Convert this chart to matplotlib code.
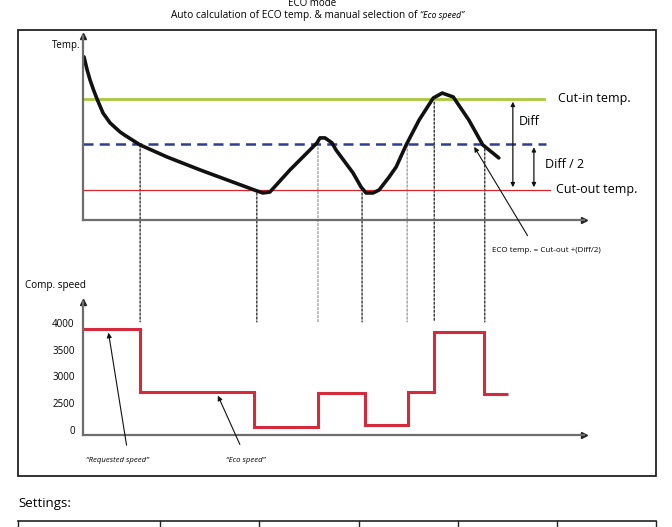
import numpy as np
import matplotlib
matplotlib.use("Agg")
import matplotlib.pyplot as plt
from matplotlib.patches import ConnectionPatch, Rectangle

plt.rcParams['font.family'] = ['Open Sans', 'DejaVu Sans']

# temperature curve (time units 0..100, temperature units)
curve_t = [0.2, 0.8, 1.4, 2.1, 2.8, 4.0, 5.4, 7.4, 8.4, 11.4, 16.8, 23.4, 29.9, 34.7, 35.9, 37.3,
           41.3, 46.7, 47.3, 48.3, 49.7, 50.5, 53.9, 55.5, 56.5, 57.9, 59.1, 61.1,
           62.5, 64.5, 67.1, 69.9, 71.7, 73.9, 77.0, 79.8, 83.0]
curve_T = [7.85, 7.3, 6.84, 6.4, 6.0, 5.38, 4.95, 4.55, 4.4, 3.98, 3.45, 2.88, 2.35, 1.96, 1.87, 1.91,
           2.88, 4.07, 4.29, 4.29, 4.07, 3.76, 2.75, 2.13, 1.87, 1.87, 2.0, 2.57,
           3.01, 3.98, 5.08, 6.04, 6.26, 6.09, 5.08, 3.98, 3.41]
cut_in = 6.0
cut_out = 2.0
eco_temp = cut_out + (cut_in - cut_out) / 2

# compressor speed steps
step_edges = [0, 11.4, 34.1, 46.9, 56.3, 64.9, 70.1, 80.0, 84.8]
step_speed = [3890, 2710, 280, 2690, 470, 2710, 3830, 2670]
speed_ticks = [0, 2500, 3000, 3500, 4000]
speed_labels = ['0', '2500', '3000', '3500', '4000']

# moments linking the two charts
event_t = [11.4, 34.7, 46.9, 55.7, 64.7, 70.1, 80.2]
event_T = [3.98, 1.87, 4.22, 1.87, 3.98, 6.04, 3.98]
event_col = ['black', 'black', '#888888', 'black', '#888888', 'black', 'black']

W, H = 672, 527
fig = plt.figure(figsize=(W / 100, H / 100), dpi=100)

bg = fig.add_axes([0, 0, 1, 1], zorder=-1)
bg.set_xlim(0, W)
bg.set_ylim(H, 0)
bg.axis('off')

bg.text(312, 3, 'ECO mode', ha='center', va='center', fontsize=7)
t1 = bg.text(420, 18, 'Auto calculation of ECO temp. & manual selection of ', ha='right',
             va='baseline', fontsize=7.3)
fig.canvas.draw()
x_end = bg.transData.inverted().transform(t1.get_window_extent().p1)[0]
bg.text(x_end, 18, '\u201cEco speed\u201d', ha='left', va='baseline', fontsize=6.3, style='italic')
bg.add_patch(Rectangle((18, 30), 638, 446, fill=False, lw=1.3, ec='#222222'))
bg.text(18, 503, 'Settings:', ha='left', va='center', fontsize=9.5)
bg.plot([18, 656], [521, 521], color='#222222', lw=1.2)
for x in [18, 160, 259, 359, 458, 557, 656]:
    bg.plot([x, x], [521, 530], color='#222222', lw=1.0)


def arrow_axes(ax):
    for s in ['top', 'right']:
        ax.spines[s].set_visible(False)
    for s in ['left', 'bottom']:
        ax.spines[s].set_color('#6d6d6d')
        ax.spines[s].set_linewidth(1.6)
    ax.plot(1, 0, marker='>', ms=4, color='#222222', transform=ax.transAxes, clip_on=False)
    ax.plot(0, 1, marker='^', ms=4, color='#222222', transform=ax.transAxes, clip_on=False)
    ax.set_facecolor('none')


# top: temperature
ax1 = fig.add_axes([83 / W, 1 - 220 / H, 501 / W, 184 / H])
arrow_axes(ax1)
ax1.set_xlim(0, 100)
ax1.set_ylim(0.681, 8.769)
ax1.set_xticks([])
ax1.set_yticks([])
ax1.axhline(cut_in, xmax=0.92, color='#a9c83a', lw=2)
ax1.axhline(eco_temp, xmax=0.925, color='#2f3d95', lw=1.8, ls=(0, (4, 2.5)))
ax1.axhline(cut_out, xmax=0.932, color='#d6262e', lw=0.9)
ax1.plot(curve_t, curve_T, color='#111111', lw=2.6, solid_joinstyle='round', solid_capstyle='round')

ax1.annotate('', xy=(85.8, cut_out), xytext=(85.8, cut_in),
             arrowprops=dict(arrowstyle='<|-|>', color='#111111', lw=0.9, mutation_scale=6))
ax1.annotate('', xy=(90.0, cut_out), xytext=(90.0, eco_temp),
             arrowprops=dict(arrowstyle='<|-|>', color='#111111', lw=0.9, mutation_scale=6))
ax1.text(94.8, cut_in, 'Cut-in temp.', ha='left', va='center', fontsize=9, clip_on=False)
ax1.text(87.0, 5.0, 'Diff', ha='left', va='center', fontsize=9, clip_on=False)
ax1.text(92.2, 3.1, 'Diff / 2', ha='left', va='center', fontsize=9, clip_on=False)
ax1.text(94.4, cut_out, 'Cut-out temp.', ha='left', va='center', fontsize=9, clip_on=False)
ax1.text(-0.5, 8.35, 'Temp.', ha='right', va='center', fontsize=7, clip_on=False)

bg.text(546, 251, 'ECO temp. = Cut-out +(Diff/2)', ha='center', va='center', fontsize=5.8)
ax1.annotate('', xy=(77.8, eco_temp), xytext=(529, 238), textcoords=bg.transData,
             arrowprops=dict(arrowstyle='-|>', color='#111111', lw=0.8, mutation_scale=7))

# bottom: compressor speed (broken axis below 2500)


def fwd(v):
    v = np.asarray(v, float)
    return np.where(v < 2500, v / 2500, 1 + (v - 2500) / 500)


def inv(p):
    p = np.asarray(p, float)
    return np.where(p < 1, p * 2500, 2500 + (p - 1) * 500)


ax2 = fig.add_axes([83 / W, 1 - 435 / H, 501 / W, 133 / H])
arrow_axes(ax2)
ax2.set_yscale('function', functions=(fwd, inv))
ax2.set_xlim(0, 100)
ax2.set_ylim(-467, 4392)
ax2.set_xticks([])
ax2.set_yticks(speed_ticks)
ax2.set_yticklabels(speed_labels, fontsize=7)
ax2.yaxis.set_minor_locator(matplotlib.ticker.NullLocator())
ax2.tick_params(axis='y', length=0, pad=6)
ax2.stairs(step_speed, step_edges, color='#d42a3c', lw=2.2, baseline=None)
ax2.text(-11.5, 4700, 'Comp. speed', ha='left', va='center', fontsize=7.2, clip_on=False)

bg.text(117, 460, '\u201cRequested speed\u201d', ha='center', va='center', fontsize=5.6, style='italic')
bg.text(246, 460, '\u201cEco speed\u201d', ha='center', va='center', fontsize=5.6, style='italic')
ax2.annotate('', xy=(5.0, 3870), xytext=(127, 448), textcoords=bg.transData,
             arrowprops=dict(arrowstyle='-|>', color='#111111', lw=0.8, mutation_scale=7))
ax2.annotate('', xy=(26.7, 2690), xytext=(241, 447), textcoords=bg.transData,
             arrowprops=dict(arrowstyle='-|>', color='#111111', lw=0.8, mutation_scale=7))

# dashed links between the two charts
for t, T, c in zip(event_t, event_T, event_col):
    con = ConnectionPatch(xyA=(t, T), coordsA=ax1.transData, xyB=(t, 4020), coordsB=ax2.transData,
                          color=c, lw=0.8, ls=(0, (2, 1.6)), zorder=0)
    fig.add_artist(con)

fig.savefig('out.png', dpi=100)
